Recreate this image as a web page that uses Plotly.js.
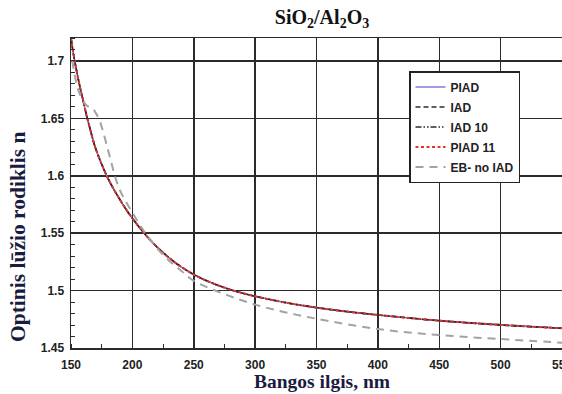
<!DOCTYPE html>
<html>
<head>
<meta charset="utf-8">
<script src="https://cdn.plot.ly/plotly-3.0.1.min.js"></script>
<style>
  html, body { margin: 0; padding: 0; background: #fff; }
  #chart { width: 562px; height: 394px; }
</style>
</head>
<body>
<div id="chart"></div>
<script>
// Wavelength grid (nm) for the IAD / PIAD dispersion curves
const wavelength = [150, 152, 155, 158, 160, 163, 165, 168, 170, 175, 180, 185, 190, 195, 200,
  205, 210, 220, 230, 240, 250, 260, 270, 280, 290, 300, 325, 350, 375, 400, 450, 500, 550];

// Refractive index n for PIAD, IAD, IAD 10 and PIAD 11 (the four curves coincide)
const nPIAD = [1.720, 1.706, 1.689, 1.674, 1.665, 1.651, 1.643, 1.631, 1.624, 1.610, 1.598, 1.588,
  1.579, 1.5705, 1.563, 1.556, 1.5495, 1.538, 1.5285, 1.5205, 1.514, 1.5088, 1.5045, 1.5008,
  1.4977, 1.495, 1.4895, 1.4852, 1.4817, 1.4788, 1.4738, 1.4701, 1.4672];
const nIAD = nPIAD.slice();
const nIAD10 = nPIAD.slice();
const nPIAD11 = nPIAD.slice();

// Electron-beam deposition without ion assistance
const wavelengthEB = [151, 153, 155, 158, 160, 163, 165, 168, 170, 173, 176, 180, 183, 186, 190,
  195, 200, 205, 210, 220, 230, 240, 250, 275, 300, 325, 350, 400, 450, 500, 550];
const nEB = [1.700, 1.688, 1.678, 1.669, 1.665, 1.661, 1.660, 1.658, 1.655, 1.649, 1.639, 1.623,
  1.611, 1.599, 1.587, 1.577, 1.568, 1.559, 1.551, 1.537, 1.526, 1.517, 1.5085, 1.497, 1.4878,
  1.481, 1.4755, 1.4665, 1.4613, 1.4578, 1.4546];

const seriesNames = ['PIAD', 'IAD', 'IAD 10', 'PIAD 11', 'EB- no IAD'];
const xTicks = [150, 200, 250, 300, 350, 400, 450, 500, 550];
const yTicks = [1.45, 1.5, 1.55, 1.6, 1.65, 1.7];
const yTickText = ['1.45', '1.5', '1.55', '1.6', '1.65', '1.7'];

const boldSans = { family: 'Liberation Sans, Arial, sans-serif', size: 12, color: '#222', weight: 'bold' };
const boldSerif = { family: 'Liberation Serif, Times New Roman, serif', weight: 'bold' };

function curve(x, y, i, line) {
  return {
    type: 'scatter', mode: 'lines', x: x, y: y, name: seriesNames[i],
    legendgroup: 'g' + i, line: Object.assign({ shape: 'spline', smoothing: 1 }, line),
    hoverinfo: 'skip'
  };
}

const traces = [
  curve(wavelength, nPIAD, 0, { color: '#7f7fd6', width: 1.6 }),
  curve(wavelength, nIAD, 1, { color: '#2a2a2a', width: 1.6, dash: '5px,3px' }),
  curve(wavelength, nIAD10, 2, { color: '#2a2a2a', width: 1.6, dash: '6px,2px,1.5px,2px,1.5px,2px' }),
  curve(wavelength, nPIAD11, 3, { color: '#e8322a', width: 2, dash: '3px,2.5px' }),
  curve(wavelengthEB, nEB, 4, { color: '#a3a3a3', width: 2, dash: '8px,6px' })
];

const layout = {
  width: 562, height: 394,
  margin: { l: 71, r: 0, t: 38, b: 46 },
  paper_bgcolor: '#fff', plot_bgcolor: '#fff',
  showlegend: true,
  title: {
    text: 'SiO<sub>2</sub>/Al<sub>2</sub>O<sub>3</sub>',
    xref: 'container', yref: 'container', x: 322 / 562, y: 1 - 17 / 394,
    xanchor: 'center', yanchor: 'middle',
    font: Object.assign({ size: 20, color: '#111' }, boldSerif)
  },
  xaxis: {
    range: [150, 550], tickvals: xTicks, ticktext: xTicks.map(String),
    showgrid: true, gridcolor: '#2b2b2b', gridwidth: 1.5,
    showline: true, linecolor: '#2b2b2b', linewidth: 1.5, mirror: true,
    ticks: '', tickfont: boldSans, zeroline: false,
    ticklabelstandoff: 5, ticklabeloverflow: 'allow',
    minor: { dtick: 25, tick0: 150, ticks: 'inside', ticklen: 4, tickcolor: '#2b2b2b', tickwidth: 1, showgrid: false }
  },
  yaxis: {
    range: [1.45, 1.72], tickvals: yTicks, ticktext: yTickText,
    showgrid: true, gridcolor: '#2b2b2b', gridwidth: 1.5,
    showline: true, linecolor: '#2b2b2b', linewidth: 1.5, mirror: false,
    ticks: '', tickfont: boldSans, zeroline: false, ticklabelstandoff: 3,
    minor: { dtick: 0.01, tick0: 1.45, ticks: 'inside', ticklen: 4, tickcolor: '#2b2b2b', tickwidth: 1, showgrid: false }
  },
  legend: {
    x: (409 - 71) / 491, y: (348 - 71) / 310, xanchor: 'left', yanchor: 'top',
    bgcolor: '#fff', bordercolor: '#222', borderwidth: 1.5,
    font: boldSans, traceorder: 'grouped', tracegroupgap: 1, itemwidth: 30
  },
  annotations: [
    {
      text: 'Bangos ilgis, nm', xref: 'paper', yref: 'paper',
      x: (322 - 71) / 491, y: (348 - 381) / 310, xanchor: 'center', yanchor: 'middle',
      showarrow: false, font: Object.assign({ size: 19.5, color: '#1b1b3f' }, boldSerif)
    },
    {
      text: 'Optinis lūžio rodiklis n', xref: 'paper', yref: 'paper',
      x: (18 - 71) / 491, y: (348 - 237) / 310, xanchor: 'center', yanchor: 'middle',
      textangle: -90, showarrow: false, font: Object.assign({ size: 21.5, color: '#1b1b3f' }, boldSerif)
    }
  ]
};

Plotly.newPlot('chart', traces, layout, { displayModeBar: false, staticPlot: true });
</script>
</body>
</html>
